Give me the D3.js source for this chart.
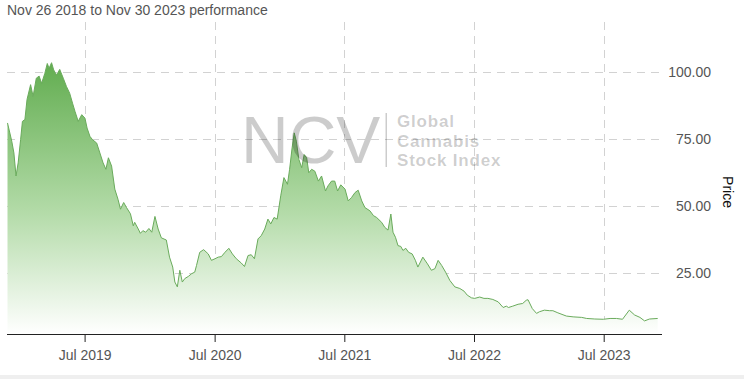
<!DOCTYPE html>
<html>
<head>
<meta charset="utf-8">
<script src="https://cdn.jsdelivr.net/npm/d3@7"></script>
<style>
  body { margin: 0; background: #fff; }
  svg { display: block; font-family: "Liberation Sans", Arial, sans-serif; }
</style>
</head>
<body>
<div class="chart"></div>
<script>
const title = "Nov 26 2018 to Nov 30 2023 performance";
const yTicks = [25, 50, 75, 100];
const xTicks = ["2019-07-01", "2020-07-01", "2021-07-01", "2022-07-01", "2023-07-01"];
const xDomain = ["2018-11-26", "2023-11-30"];

// index level
const dates = [
    "2018-11-26", "2018-12-08", "2018-12-14", "2018-12-20", "2018-12-26", "2019-01-02", "2019-01-07", "2019-01-14",
    "2019-01-20", "2019-01-30", "2019-02-06", "2019-02-15", "2019-02-23", "2019-03-02", "2019-03-11", "2019-03-18",
    "2019-03-23", "2019-03-30", "2019-04-05", "2019-04-13", "2019-04-22", "2019-05-02", "2019-05-11", "2019-05-20",
    "2019-05-28", "2019-06-04", "2019-06-13", "2019-06-23", "2019-07-02", "2019-07-08", "2019-07-16", "2019-07-23",
    "2019-08-04", "2019-08-13", "2019-08-22", "2019-08-30", "2019-09-06", "2019-09-15", "2019-09-24", "2019-10-03",
    "2019-10-10", "2019-10-19", "2019-10-27", "2019-11-07", "2019-11-15", "2019-11-19", "2019-11-29", "2019-12-05",
    "2019-12-12", "2019-12-20", "2019-12-29", "2020-01-06", "2020-01-15", "2020-01-24", "2020-02-02", "2020-02-16",
    "2020-02-25", "2020-03-05", "2020-03-11", "2020-03-18", "2020-03-25", "2020-04-01", "2020-04-08", "2020-04-18",
    "2020-04-27", "2020-05-06", "2020-05-11", "2020-05-20", "2020-05-31", "2020-06-13", "2020-06-22", "2020-07-02",
    "2020-07-11", "2020-07-20", "2020-07-30", "2020-08-10", "2020-08-20", "2020-08-31", "2020-09-14", "2020-09-23",
    "2020-10-03", "2020-10-12", "2020-10-21", "2020-10-31", "2020-11-09", "2020-11-19", "2020-11-28", "2020-12-06",
    "2020-12-15", "2020-12-24", "2021-01-03", "2021-01-12", "2021-01-22", "2021-01-28", "2021-02-04", "2021-02-10",
    "2021-02-16", "2021-02-23", "2021-03-03", "2021-03-10", "2021-03-17", "2021-03-23", "2021-03-31", "2021-04-09",
    "2021-04-19", "2021-04-28", "2021-05-09", "2021-05-16", "2021-05-26", "2021-06-04", "2021-06-12", "2021-06-21",
    "2021-07-03", "2021-07-12", "2021-07-21", "2021-07-31", "2021-08-09", "2021-08-19", "2021-08-28", "2021-09-11",
    "2021-09-21", "2021-09-30", "2021-10-14", "2021-10-23", "2021-11-01", "2021-11-09", "2021-11-15", "2021-11-22",
    "2021-11-29", "2021-12-07", "2021-12-13", "2021-12-21", "2021-12-29", "2022-01-08", "2022-01-17", "2022-01-24",
    "2022-02-07", "2022-02-20", "2022-03-03", "2022-03-13", "2022-03-22", "2022-04-01", "2022-04-12", "2022-04-24",
    "2022-05-08", "2022-05-22", "2022-06-03", "2022-06-12", "2022-06-24", "2022-07-03", "2022-07-17", "2022-07-29",
    "2022-08-09", "2022-08-23", "2022-09-07", "2022-09-21", "2022-09-30", "2022-10-06", "2022-10-18", "2022-11-02",
    "2022-11-15", "2022-11-25", "2022-11-30", "2022-12-12", "2022-12-24", "2023-01-01", "2023-01-15", "2023-01-30",
    "2023-02-08", "2023-02-22", "2023-03-18", "2023-04-06", "2023-04-30", "2023-05-14", "2023-06-06", "2023-06-30",
    "2023-07-19", "2023-08-06", "2023-08-23", "2023-09-11", "2023-09-26", "2023-10-11", "2023-10-24", "2023-11-07",
    "2023-11-30"
];
const prices = [
    80.9, 74.1, 69.7, 61.1, 66.0, 74.8, 81.5, 82.2,
    89.7, 95.2, 90.8, 97.6, 98.4, 95.7, 99.4, 103.1,
    101.3, 103.4, 100.7, 98.8, 100.9, 97.6, 94.5, 92.0,
    88.3, 85.2, 81.5, 84.0, 82.7, 79.0, 75.9, 74.7,
    73.4, 69.7, 66.0, 63.6, 67.9, 64.8, 56.2, 52.4,
    48.7, 51.2, 49.3, 47.0, 42.5, 43.8, 41.3, 39.7,
    40.7, 40.1, 41.5, 40.1, 46.0, 41.3, 38.0, 37.2,
    30.8, 27.1, 21.5, 19.7, 25.9, 21.5, 22.8, 23.6,
    24.6, 25.2, 27.7, 32.6, 33.6, 32.0, 29.6, 30.2,
    30.8, 31.0, 32.6, 34.1, 32.0, 30.2, 28.6, 27.3,
    31.4, 31.7, 30.2, 37.6, 38.8, 41.3, 45.0, 43.2,
    45.6, 45.0, 53.7, 60.5, 58.0, 63.6, 71.6, 77.2,
    74.1, 67.3, 64.2, 69.1, 67.9, 62.3, 63.6, 62.9,
    59.2, 61.1, 55.5, 57.4, 59.2, 59.2, 55.5, 57.8,
    56.2, 51.8, 53.0, 54.9, 55.8, 51.8, 49.3, 48.1,
    46.3, 45.6, 43.8, 41.9, 40.9, 46.9, 40.1, 38.2,
    35.1, 34.8, 33.3, 34.1, 32.6, 32.0, 29.6, 27.1,
    30.8, 28.3, 25.9, 26.5, 29.6, 27.7, 25.2, 22.1,
    19.7, 19.1, 18.1, 16.6, 15.6, 15.4, 15.9, 15.4,
    15.4, 15.0, 14.1, 12.0, 12.5, 12.0, 12.5, 13.2,
    13.5, 14.7, 14.9, 11.6, 9.8, 10.4, 11.0, 10.8,
    10.8, 10.0, 8.8, 8.5, 8.3, 7.9, 7.7, 7.6,
    7.9, 7.9, 7.6, 11.0, 9.2, 8.3, 7.0, 7.7,
    7.9
];

const W = 744, H = 379;
const plotL = 7, plotR = 662, plotT = 22, plotB = 334;

const parse = d3.timeParse("%Y-%m-%d");
const series = dates.map((d, i) => ({date: parse(d), value: prices[i]}));

const svg = d3.select(".chart")
    .append("svg")
    .attr("width", W)
    .attr("height", H);

const x = d3.scaleTime()
    .domain(xDomain.map(parse))
    .range([7.5, 657.7]);

const y = d3.scaleLinear()
    .domain([2.1, 118.6])
    .range([plotB, plotT]);

const defs = svg.append("defs");
const grad = defs.append("linearGradient")
    .attr("id", "fillGrad")
    .attr("x1", 0).attr("y1", 0)
    .attr("x2", 0).attr("y2", 1);
grad.append("stop").attr("offset", "0%").attr("stop-color", "#62ad50");
grad.append("stop").attr("offset", "55%").attr("stop-color", "#b3dba8");
grad.append("stop").attr("offset", "100%").attr("stop-color", "#ffffff");

defs.append("clipPath").attr("id", "plotClip")
    .append("rect")
    .attr("x", plotL).attr("y", plotT)
    .attr("width", plotR - plotL).attr("height", plotB - plotT);

// bottom band
svg.append("rect")
    .attr("x", 0).attr("y", 375)
    .attr("width", W).attr("height", 4)
    .attr("fill", "#efefef");

// title
svg.append("text")
    .attr("x", 7)
    .attr("y", 15)
    .attr("font-size", 14)
    .attr("fill", "#555")
    .text(title);

// grid
svg.append("g")
    .selectAll("line")
    .data(yTicks)
    .enter()
    .append("line")
    .attr("x1", plotL).attr("x2", plotR)
    .attr("y1", d => Math.round(y(d)) + 0.5)
    .attr("y2", d => Math.round(y(d)) + 0.5)
    .attr("stroke", "#d2d2d2")
    .attr("stroke-dasharray", "8,6");

svg.append("g")
    .selectAll("line")
    .data(xTicks.map(parse))
    .enter()
    .append("line")
    .attr("x1", d => Math.round(x(d)) + 0.5)
    .attr("x2", d => Math.round(x(d)) + 0.5)
    .attr("y1", plotT).attr("y2", plotB)
    .attr("stroke", "#d2d2d2")
    .attr("stroke-dasharray", "8,6");

// area + line
const area = d3.area()
    .x(d => x(d.date))
    .y0(plotB)
    .y1(d => y(d.value));

const line = d3.line()
    .x(d => x(d.date))
    .y(d => y(d.value));

const plot = svg.append("g").attr("clip-path", "url(#plotClip)");

plot.append("path")
    .datum(series)
    .attr("d", area)
    .attr("fill", "url(#fillGrad)");

plot.append("path")
    .datum(series)
    .attr("d", line)
    .attr("fill", "none")
    .attr("stroke", "#6aab5c")
    .attr("stroke-width", 1);

// watermark
const wm = svg.append("g").attr("fill", "#000").attr("fill-opacity", 0.2);
wm.append("text")
    .attr("x", 241)
    .attr("y", 163)
    .attr("font-size", 66)
    .text("NCV");
wm.append("rect")
    .attr("x", 385.5).attr("y", 113)
    .attr("width", 1.5).attr("height", 54);
wm.selectAll("text.sub")
    .data(["Global", "Cannabis", "Stock Index"])
    .enter()
    .append("text")
    .attr("class", "sub")
    .attr("x", 397)
    .attr("y", (d, i) => 127 + i * 19.5)
    .attr("font-size", 17)
    .attr("font-weight", "bold")
    .attr("letter-spacing", 0.8)
    .text(d => d);

// x axis
const xAxis = d3.axisBottom(x)
    .tickValues(xTicks.map(parse))
    .tickFormat(d3.timeFormat("%b %Y"))
    .tickSizeInner(8)
    .tickSizeOuter(0)
    .tickPadding(8);

const gx = svg.append("g")
    .attr("transform", `translate(0,${plotB})`)
    .call(xAxis);
gx.select(".domain").attr("d", `M${plotL},0.5H${plotR}`).attr("stroke", "#222");
gx.selectAll(".tick line").attr("stroke", "#222");
gx.selectAll(".tick text")
    .attr("font-size", 14)
    .attr("font-family", "'Liberation Sans', Arial, sans-serif")
    .attr("fill", "#555");

// y labels on the right
svg.append("g")
    .selectAll("text")
    .data(yTicks)
    .enter()
    .append("text")
    .attr("x", 711)
    .attr("y", d => y(d) + 5)
    .attr("text-anchor", "end")
    .attr("font-size", 14)
    .attr("fill", "#555")
    .text(d => d3.format(".2f")(d));

svg.append("text")
    .attr("transform", "translate(723,192) rotate(90)")
    .attr("text-anchor", "middle")
    .attr("font-size", 14)
    .attr("fill", "#111")
    .text("Price");
</script>
</body>
</html>
